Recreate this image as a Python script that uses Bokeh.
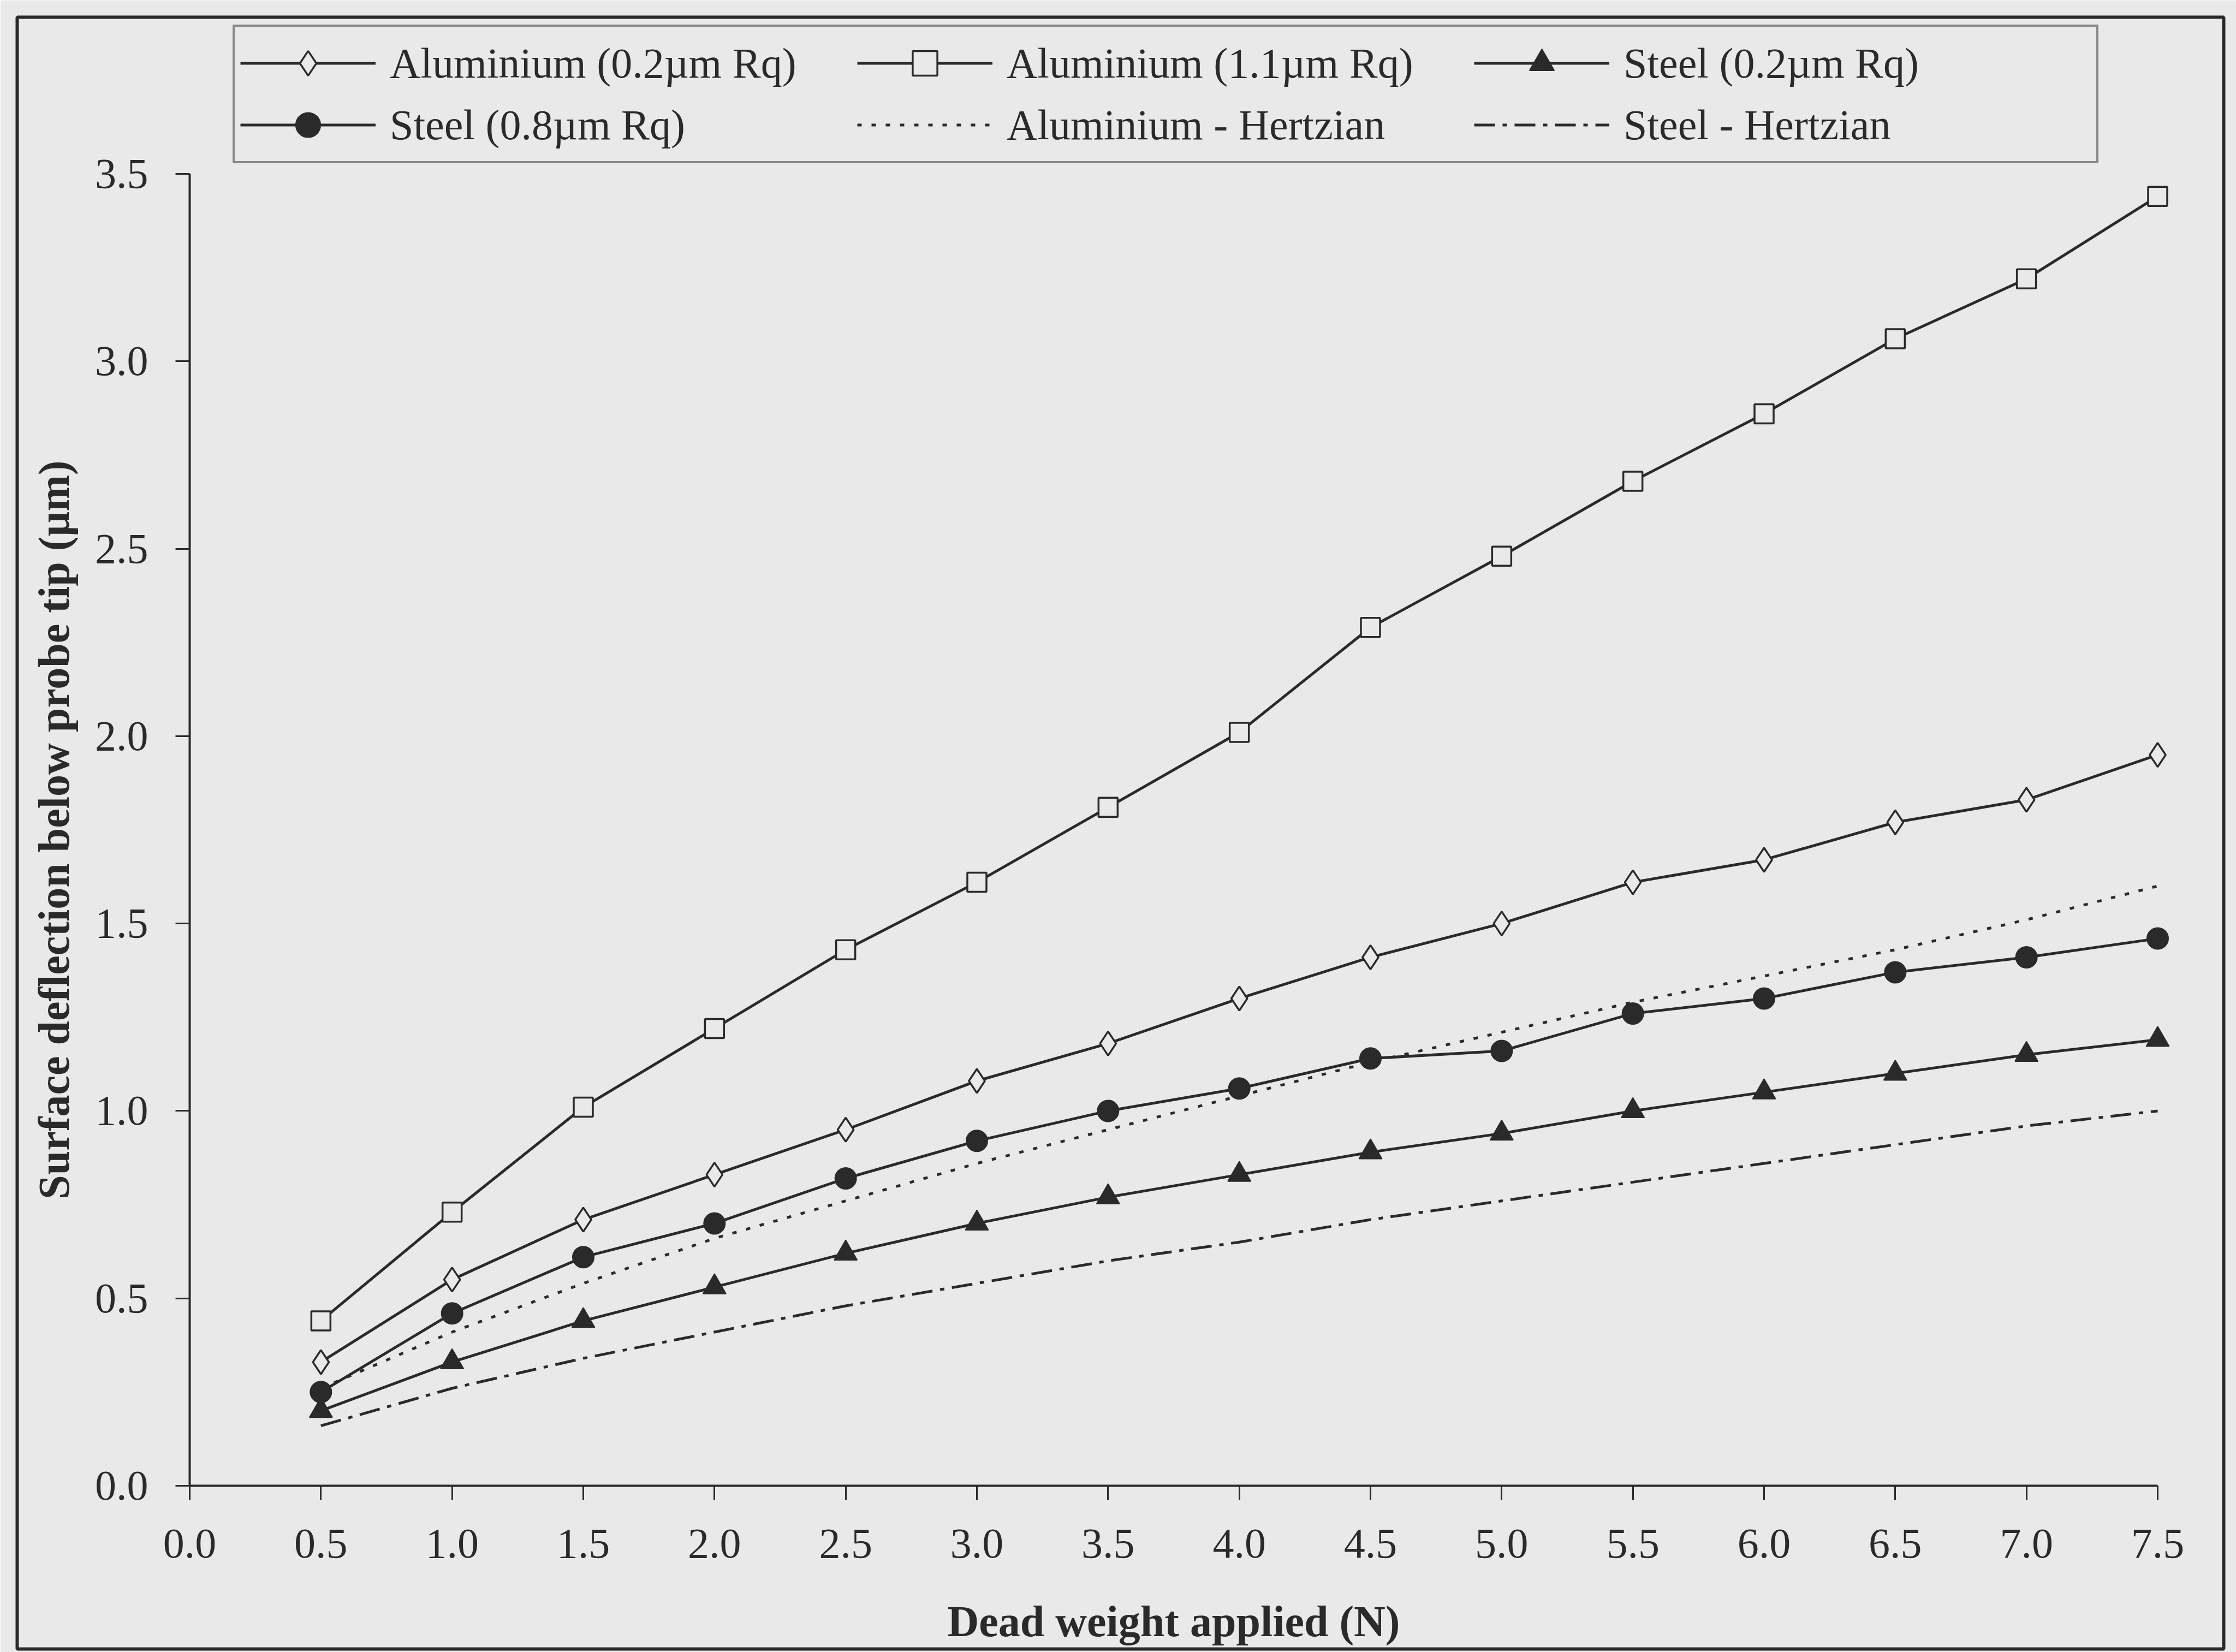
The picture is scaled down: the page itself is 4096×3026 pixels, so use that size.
from bokeh.plotting import figure
from bokeh.models import Range1d, FixedTicker, PrintfTickFormatter, Legend, LegendItem
from bokeh.embed import file_html
from bokeh.resources import INLINE

# ---------------- data ----------------
load_n = [0.5, 1.0, 1.5, 2.0, 2.5, 3.0, 3.5, 4.0, 4.5, 5.0, 5.5, 6.0, 6.5, 7.0, 7.5]
al_02 = [0.33, 0.55, 0.71, 0.83, 0.95, 1.08, 1.18, 1.30, 1.41, 1.50, 1.61, 1.67, 1.77, 1.83, 1.95]
al_11 = [0.44, 0.73, 1.01, 1.22, 1.43, 1.61, 1.81, 2.01, 2.29, 2.48, 2.68, 2.86, 3.06, 3.22, 3.44]
st_02 = [0.20, 0.33, 0.44, 0.53, 0.62, 0.70, 0.77, 0.83, 0.89, 0.94, 1.00, 1.05, 1.10, 1.15, 1.19]
st_08 = [0.25, 0.46, 0.61, 0.70, 0.82, 0.92, 1.00, 1.06, 1.14, 1.16, 1.26, 1.30, 1.37, 1.41, 1.46]
al_hertz = [0.26, 0.41, 0.54, 0.66, 0.76, 0.86, 0.95, 1.04, 1.13, 1.21, 1.29, 1.36, 1.43, 1.51, 1.60]
st_hertz = [0.16, 0.26, 0.34, 0.41, 0.48, 0.54, 0.60, 0.65, 0.71, 0.76, 0.81, 0.86, 0.91, 0.96, 1.00]
x_ticks = [0.0, 0.5, 1.0, 1.5, 2.0, 2.5, 3.0, 3.5, 4.0, 4.5, 5.0, 5.5, 6.0, 6.5, 7.0, 7.5]
y_ticks = [0.0, 0.5, 1.0, 1.5, 2.0, 2.5, 3.0, 3.5]
x_title = "Dead weight applied (N)"
y_title = "Surface deflection below probe tip (\u00b5m)"
names = ["Aluminium (0.2\u00b5m Rq)", "Aluminium (1.1\u00b5m Rq)", "Steel (0.2\u00b5m Rq)",
         "Steel (0.8\u00b5m Rq)", "Aluminium - Hertzian", "Steel - Hertzian"]

# ---------------- style ----------------
BG = "#e9e9e9"
INK = "#2a2a2a"
FONT = "Liberation Serif"
LW = 5

W, H = 4096, 3026
# outer box (drawn as the frame outline), canvas px
BL, BR, BT, BB = 31, 4073, 31, 3020
# where the axes sit inside it, canvas px
AX0, AX1, AY0, AY1 = 347, 3952, 2721, 318

X0, X1, Y0, Y1 = 0.0, 7.5, 0.0, 3.5
kx = (AX1 - AX0) / (X1 - X0)
ky = (AY0 - AY1) / (Y1 - Y0)
x_range = Range1d(X0 - (AX0 - BL) / kx, X1 + (BR - AX1) / kx)
y_range = Range1d(Y0 - (BB - AY0) / ky, Y1 + (AY1 - BT) / ky)

p = figure(width=W, height=H, output_backend="svg", toolbar_location=None,
           x_range=x_range, y_range=y_range,
           min_border_left=BL, min_border_right=W - BR,
           min_border_top=BT, min_border_bottom=H - BB)
p.background_fill_color = BG
p.border_fill_color = BG
p.outline_line_color = INK
p.outline_line_width = 6
p.xgrid.visible = False
p.ygrid.visible = False

for ax in (p.xaxis[0], p.yaxis[0]):
    ax.axis_line_color = INK
    ax.axis_line_width = 4
    ax.major_tick_line_color = INK
    ax.major_tick_line_width = 3
    ax.major_tick_out = 26
    ax.major_tick_in = 0
    ax.minor_tick_line_color = None
    ax.major_label_text_font = FONT
    ax.major_label_text_font_size = "78px"
    ax.major_label_text_color = INK
    ax.axis_label_text_font = FONT
    ax.axis_label_text_font_size = "80px"
    ax.axis_label_text_font_style = "bold"
    ax.axis_label_text_color = INK
    ax.formatter = PrintfTickFormatter(format="%.1f")

p.xaxis[0].ticker = FixedTicker(ticks=x_ticks)
p.yaxis[0].ticker = FixedTicker(ticks=y_ticks)
p.xaxis[0].bounds = (X0, X1)
p.yaxis[0].bounds = (Y0, Y1)
p.xaxis[0].fixed_location = Y0
p.yaxis[0].fixed_location = X0
p.xaxis[0].axis_label = x_title
p.yaxis[0].axis_label = y_title
p.xaxis[0].major_label_standoff = 54
p.yaxis[0].major_label_standoff = 50
p.xaxis[0].axis_label_standoff = 70
p.yaxis[0].axis_label_standoff = 28

# ---------------- series ----------------
l_al02 = p.line(load_n, al_02, line_color=INK, line_width=LW)
m_al02 = p.scatter(load_n, al_02, marker="diamond", size=44,
                   fill_color=BG, line_color=INK, line_width=3.5)
l_al11 = p.line(load_n, al_11, line_color=INK, line_width=LW)
m_al11 = p.scatter(load_n, al_11, marker="square", size=35,
                   fill_color=BG, line_color=INK, line_width=3.5)
l_st02 = p.line(load_n, st_02, line_color=INK, line_width=LW)
m_st02 = p.scatter(load_n, st_02, marker="triangle", size=42,
                   fill_color=INK, line_color=INK, line_width=2)
l_st08 = p.line(load_n, st_08, line_color=INK, line_width=LW)
m_st08 = p.scatter(load_n, st_08, marker="circle", size=39,
                   fill_color=INK, line_color=INK, line_width=2)
l_alh = p.line(load_n, al_hertz, line_color=INK, line_width=LW, line_dash="8 18")
l_sth = p.line(load_n, st_hertz, line_color=INK, line_width=LW, line_dash="38 14 8 14")

# ---------------- legend ----------------
items = [
    LegendItem(label=names[0], renderers=[l_al02, m_al02]),
    LegendItem(label=names[1], renderers=[l_al11, m_al11]),
    LegendItem(label=names[2], renderers=[l_st02, m_st02]),
    LegendItem(label=names[3], renderers=[l_st08, m_st08]),
    LegendItem(label=names[4], renderers=[l_alh]),
    LegendItem(label=names[5], renderers=[l_sth]),
]
legend = Legend(items=items, orientation="horizontal", ncols=3,
                location=(426 - BL, BB - 299),
                glyph_width=248, glyph_height=113, label_standoff=26,
                label_width=856, label_height=113, spacing=0, padding=10, margin=0,
                border_line_color=INK, border_line_width=4,
                background_fill_color=BG, background_fill_alpha=1.0,
                label_text_font=FONT, label_text_font_size="78px",
                label_text_color=INK, label_text_baseline="middle")
p.add_layout(legend, "center")

open("out.html", "w").write(file_html(p, INLINE))
